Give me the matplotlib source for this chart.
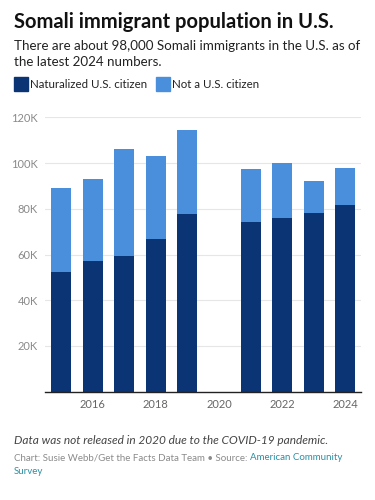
import matplotlib
matplotlib.use("Agg")
import matplotlib.pyplot as plt
from matplotlib.patches import Rectangle
from matplotlib.ticker import FuncFormatter

plt.rcParams['font.family'] = ['Lato', 'DejaVu Sans']

years = [2015, 2016, 2017, 2018, 2019, 2021, 2022, 2023, 2024]
naturalized = [52200, 57300, 59500, 66600, 77600, 74100, 76100, 78000, 81800]
total = [88900, 92900, 106300, 103100, 114400, 97500, 100000, 92300, 97800]
not_citizen = [t - n for t, n in zip(total, naturalized)]
yticks = [20000, 40000, 60000, 80000, 100000, 120000]
xticks = [2016, 2018, 2020, 2022, 2024]

dark = '#0a3473'
light = '#4a8fdc'
grey = '#8a8a8a'

fig = plt.figure(figsize=(3.75, 5), dpi=100)
ax = fig.add_axes([0.12, 0.2166, 0.843, 0.5488])

ax.bar(years, naturalized, width=0.63, color=dark, zorder=2)
ax.bar(years, not_citizen, width=0.63, bottom=naturalized, color=light, zorder=2)

ax.set_xlim(2014.49, 2024.5)
ax.set_ylim(0, 120000)
ax.set_yticks(yticks)
ax.yaxis.set_major_formatter(FuncFormatter(lambda v, p: f'{int(v / 1000)}K'))
ax.set_xticks(xticks)
ax.grid(axis='y', color='#e6e6e6', linewidth=0.8, zorder=0)
for s in ['top', 'right', 'left']:
    ax.spines[s].set_visible(False)
ax.spines['bottom'].set_color('#222222')
ax.spines['bottom'].set_linewidth(1.0)
ax.tick_params(axis='both', length=0, labelsize=8, labelcolor=grey, pad=5)
ax.tick_params(axis='x', labelcolor='#666666')

# header
fig.text(0.037, 0.975, 'Somali immigrant population in U.S.', fontsize=14.5,
         fontweight='bold', color='#111111', va='top')
fig.text(0.037, 0.92, 'There are about 98,000 Somali immigrants in the U.S. as of\nthe latest 2024 numbers.',
         fontsize=9.6, color='#222222', va='top', linespacing=1.4)

# legend
fig.patches.append(Rectangle((14 / 375, 1 - 91 / 500), 14 / 375, 14 / 500,
                             transform=fig.transFigure, color=dark))
fig.text(30 / 375, 1 - 84 / 500, 'Naturalized U.S. citizen', fontsize=8.3,
         color='#222222', va='center')
fig.patches.append(Rectangle((156 / 375, 1 - 91 / 500), 14 / 375, 14 / 500,
                             transform=fig.transFigure, color=light))
fig.text(172 / 375, 1 - 84 / 500, 'Not a U.S. citizen', fontsize=8.3,
         color='#222222', va='center')

# footer
fig.text(0.037, 1 - 440 / 500, 'Data was not released in 2020 due to the COVID-19 pandemic.',
         fontsize=8.6, style='italic', color='#444444', va='center')
src = fig.text(0.037, 1 - 458 / 500, 'Chart: Susie Webb/Get the Facts Data Team \u2022 Source: ',
               fontsize=7, color='#8a8a8a', va='center')
fig.canvas.draw()
bb = src.get_window_extent()
fig.text(bb.x1 / fig.bbox.width, 1 - 458 / 500, 'American Community',
         fontsize=7, color='#2b8fa3', va='center')
fig.text(0.037, 1 - 471 / 500, 'Survey', fontsize=7, color='#2b8fa3', va='center')

fig.savefig('out.png', dpi=100)
